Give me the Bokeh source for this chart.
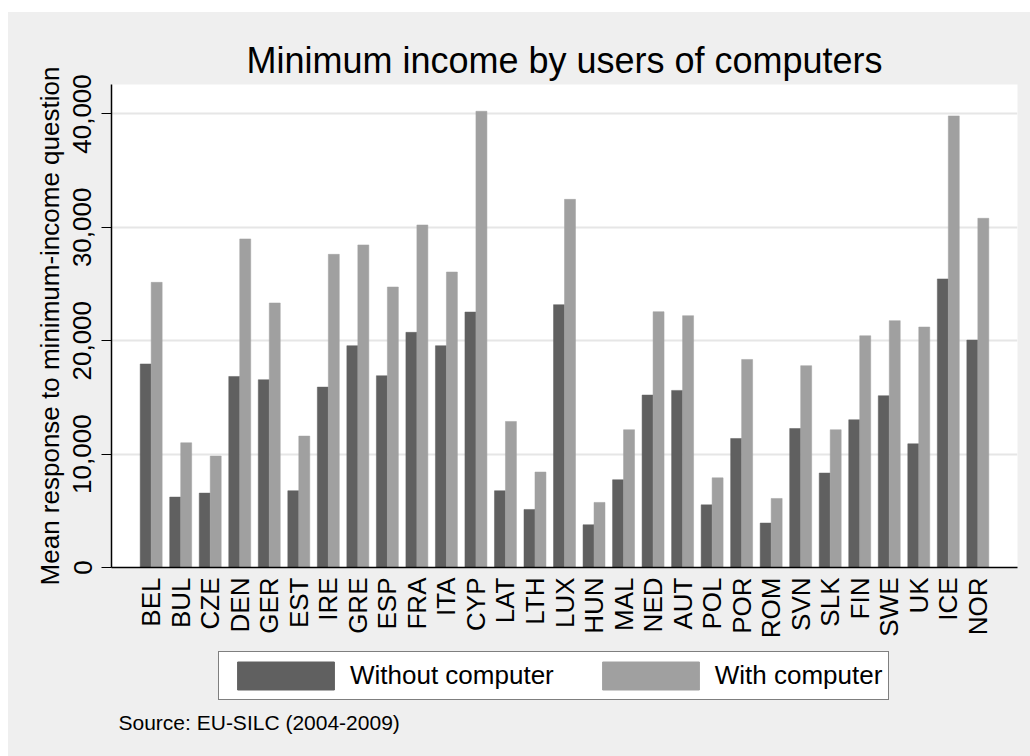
import math
from bokeh.plotting import figure
from bokeh.models import (ColumnDataSource, FactorRange, Range1d, FixedTicker,
                          NumeralTickFormatter, Legend, LegendItem, Label, Spacer)
from bokeh.layouts import column, row
from bokeh.transform import dodge
from bokeh.embed import file_html
from bokeh.resources import INLINE

countries = ["BEL", "BUL", "CZE", "DEN", "GER", "EST", "IRE", "GRE", "ESP", "FRA",
             "ITA", "CYP", "LAT", "LTH", "LUX", "HUN", "MAL", "NED", "AUT", "POL",
             "POR", "ROM", "SVN", "SLK", "FIN", "SWE", "UK", "ICE", "NOR"]
without_computer = [17950, 6210, 6560, 16850, 16560, 6770, 15910, 19560, 16910, 20740,
                    19560, 22530, 6770, 5120, 23180, 3770, 7740, 15210, 15620, 5530,
                    11380, 3920, 12260, 8330, 13030, 15150, 10910, 25450, 20060]
with_computer = [25150, 11000, 9830, 28980, 23330, 11590, 27620, 28450, 24740, 30210,
                 26060, 40240, 12880, 8420, 32470, 5740, 12150, 22560, 22210, 7910,
                 18350, 6090, 17800, 12150, 20440, 21770, 21210, 39830, 30800]
y_ticks = [0, 10000, 20000, 30000, 40000]
series_labels = ["Without computer", "With computer"]

FONT = "Liberation Sans"
BG = "#efefef"
DARK = "#606060"
LIGHT = "#a0a0a0"

src = ColumnDataSource(dict(country=countries, wo=without_computer, wi=with_computer))

# ---------------- main chart ----------------
p = figure(width=1022, height=638, output_backend="svg", toolbar_location=None,
           x_range=FactorRange(factors=countries, range_padding=0.0582, factor_padding=0),
           y_range=Range1d(0, 42600),
           min_border_left=103, min_border_right=13, min_border_top=72, min_border_bottom=83)

p.background_fill_color = "white"
p.border_fill_color = BG
p.outline_line_color = None

bw = 0.372
r1 = p.vbar(x=dodge("country", -bw / 2, range=p.x_range), top="wo", width=bw, bottom=0,
            source=src, fill_color=DARK, line_color=DARK, line_width=0.5)
r2 = p.vbar(x=dodge("country", bw / 2, range=p.x_range), top="wi", width=bw, bottom=0,
            source=src, fill_color=LIGHT, line_color=LIGHT, line_width=0.5)

p.title.text = "Minimum income by users of computers"
p.title.align = "center"
p.title.text_font = FONT
p.title.text_font_size = "36px"
p.title.text_font_style = "normal"
p.title.text_color = "black"
p.title.standoff = 8

p.xgrid.grid_line_color = None
p.ygrid.grid_line_color = "#e6e6e6"
p.ygrid.grid_line_width = 2
p.ygrid.ticker = FixedTicker(ticks=y_ticks)

ya = p.yaxis[0]
ya.ticker = FixedTicker(ticks=y_ticks)
ya.formatter = NumeralTickFormatter(format="0,0")
ya.major_label_orientation = "vertical"
ya.major_label_text_font = FONT
ya.major_label_text_font_size = "26px"
ya.major_label_text_color = "black"
ya.major_tick_out = 10
ya.major_tick_in = 0
ya.minor_tick_line_color = None
ya.axis_line_color = "black"
ya.axis_line_width = 1.5
ya.major_tick_line_color = "black"
ya.major_label_standoff = 10
ya.axis_label = "Mean response to minimum-income question"
ya.axis_label_text_font = FONT
ya.axis_label_text_font_size = "26px"
ya.axis_label_text_font_style = "normal"
ya.axis_label_text_color = "black"
ya.axis_label_standoff = 6

xa = p.xaxis[0]
xa.major_label_orientation = math.pi / 2
xa.major_label_text_font = FONT
xa.major_label_text_font_size = "26px"
xa.major_label_text_color = "black"
xa.major_tick_line_color = None
xa.minor_tick_line_color = None
xa.major_tick_out = 0
xa.major_tick_in = 0
xa.major_label_standoff = 10
xa.axis_line_color = "black"
xa.axis_line_width = 1.5

# ---------------- legend + source strip (frame aligned with the chart's frame) ----------------
p2 = figure(width=1022, height=106, output_backend="svg", toolbar_location=None,
            x_range=Range1d(0, 906), y_range=Range1d(0, 106),
            x_axis_type=None, y_axis_type=None,
            min_border_left=103, min_border_right=13, min_border_top=0, min_border_bottom=0)
p2.background_fill_color = BG
p2.border_fill_color = BG
p2.outline_line_color = None
p2.xgrid.grid_line_color = None
p2.ygrid.grid_line_color = None

# legend key renderers (placed outside the visible range; they only supply the keys)
k1 = p2.vbar(x=[-500], top=[0], bottom=[0], width=1, fill_color=DARK, line_color=DARK)
k2 = p2.vbar(x=[-500], top=[0], bottom=[0], width=1, fill_color=LIGHT, line_color=LIGHT)

legend = Legend(items=[LegendItem(label=series_labels[0], renderers=[k1]),
                       LegendItem(label=series_labels[1], renderers=[k2])],
                orientation="horizontal", location=(107, 56),
                glyph_width=121, glyph_height=35, label_standoff=4, spacing=36,
                padding=6, margin=0,
                label_text_font=FONT, label_text_font_size="26px", label_text_color="black",
                border_line_color="black", border_line_width=1.5,
                background_fill_color="white", background_fill_alpha=1)
p2.add_layout(legend, "center")

p2.add_layout(Label(x=7, y=34, x_units="screen", y_units="screen",
                    text="Source: EU-SILC (2004-2009)", text_font=FONT,
                    text_font_size="21px", text_color="black", text_baseline="alphabetic"))

inner = column(p, p2, styles={"background-color": BG})
layout = column(Spacer(height=12, width=1030),
                row(Spacer(width=8, height=744), inner))
open("out.html", "w").write(file_html(layout, INLINE))
